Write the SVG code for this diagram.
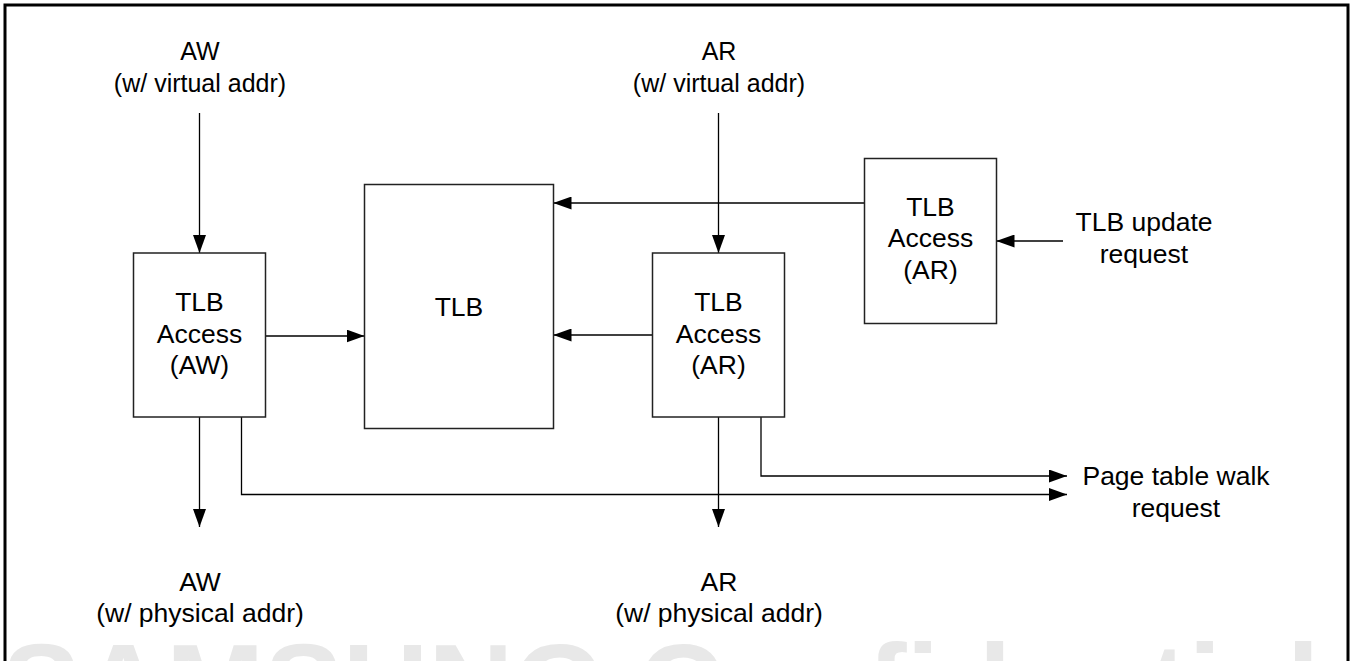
<svg xmlns="http://www.w3.org/2000/svg" width="1355" height="661" viewBox="0 0 1355 661">
<defs>
<marker id="ah" markerWidth="18" markerHeight="13" refX="18" refY="6.5" orient="auto" markerUnits="userSpaceOnUse"><path d="M0,0 L18,6.5 L0,13 z" fill="#000"/></marker>
<style>
.t{font-family:"Liberation Sans",Arial,sans-serif;font-size:26.5px;fill:#000;text-anchor:middle}
.s{font-size:25px}
.bx{fill:#fff;stroke:#222;stroke-width:1.5}
.c{fill:none;stroke:#000;stroke-width:1.3;marker-end:url(#ah)}
.wm{font-family:"Liberation Sans",Arial,sans-serif;font-size:118px;font-weight:bold;fill:#e8e8e8}
</style>
</defs>
<rect x="0" y="0" width="1355" height="661" fill="#fff"/>
<text class="wm" x="2" y="727">SAMSUNG Confidential</text>
<rect x="5" y="5" width="1343" height="720" fill="none" stroke="#000" stroke-width="3"/>

<g id="in-aw"><text class="t s" x="200" y="60">AW</text><text class="t s" x="200" y="92">(w/ virtual addr)</text></g>
<g id="in-ar"><text class="t s" x="719" y="60">AR</text><text class="t s" x="719" y="92">(w/ virtual addr)</text></g>

<g id="connectors">
<path class="c" d="M199.5,113 V253"/>
<path class="c" d="M718.5,113 V253"/>
<path class="c" d="M265.5,336 H364.5"/>
<path class="c" d="M652,335 H553.5"/>
<path class="c" d="M864,203 H553.5"/>
<path class="c" d="M1063,241 H996.5"/>
<path class="c" d="M199.5,417 V527"/>
<path class="c" d="M718.5,417 V527"/>
<path class="c" d="M241.5,417 V494.5 H1067"/>
<path class="c" d="M761,417 V476 H1067"/>
</g>

<g id="tlb-access-aw"><rect class="bx" x="133.5" y="253" width="132" height="164"/>
<text class="t" x="199.5" y="311">TLB</text><text class="t" x="199.5" y="343">Access</text><text class="t" x="199.5" y="374">(AW)</text></g>
<g id="tlb"><rect class="bx" x="364.5" y="184.5" width="189" height="244"/>
<text class="t" x="459" y="316">TLB</text></g>
<g id="tlb-access-ar"><rect class="bx" x="652.5" y="253" width="132" height="164"/>
<text class="t" x="718.5" y="311">TLB</text><text class="t" x="718.5" y="343">Access</text><text class="t" x="718.5" y="374">(AR)</text></g>
<g id="tlb-access-ar-update"><rect class="bx" x="864.5" y="158.5" width="132" height="165"/>
<text class="t" x="930.5" y="216">TLB</text><text class="t" x="930.5" y="247">Access</text><text class="t" x="930.5" y="279">(AR)</text></g>

<g id="tlb-update"><text class="t" x="1144" y="231">TLB update</text><text class="t" x="1144" y="263">request</text></g>
<g id="ptw"><text class="t" x="1176" y="485">Page table walk</text><text class="t" x="1176" y="517">request</text></g>
<g id="out-aw"><text class="t" x="200" y="591">AW</text><text class="t" x="200" y="622">(w/ physical addr)</text></g>
<g id="out-ar"><text class="t" x="719" y="591">AR</text><text class="t" x="719" y="622">(w/ physical addr)</text></g>
</svg>
